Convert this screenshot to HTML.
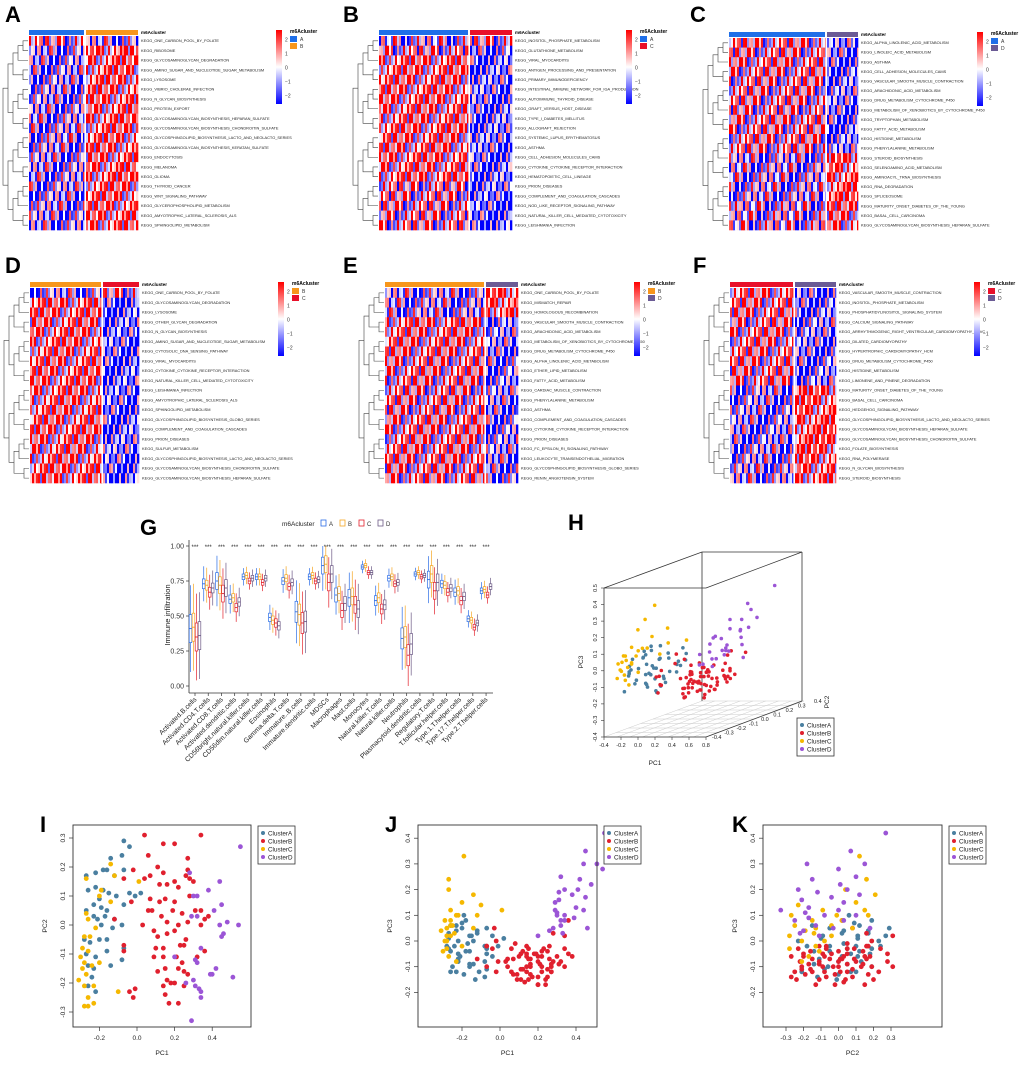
<!DOCTYPE html>
<html><head><meta charset="utf-8"><style>
html,body{margin:0;padding:0;background:#fff}
svg text{font-family:"Liberation Sans",Arial,sans-serif}
</style></head><body>
<svg id="fig" xmlns="http://www.w3.org/2000/svg" width="1020" height="1060" viewBox="0 0 1020 1060">
<defs><linearGradient id="cbar" x1="0" y1="0" x2="0" y2="1"><stop offset="0" stop-color="#ff0000"/><stop offset="0.5" stop-color="#ffffff"/><stop offset="1" stop-color="#0000ff"/></linearGradient></defs>
</svg>
<script>
const NS="http://www.w3.org/2000/svg";
const svg=document.getElementById('fig');
function el(tag,attrs,parent,text){const e=document.createElementNS(NS,tag);for(const k in attrs)e.setAttribute(k,attrs[k]);if(text!==undefined)e.textContent=text;(parent||svg).appendChild(e);return e;}

// ---------- Heatmap data ----------
const pattern=[1.2,-0.9,0.4,-1.4,0.8,-0.2,1.5,-0.6,0.1,-1.1,0.9,-1.5,0.5,1.3,-0.4,0.2,-0.8,1.0,-1.2,0.6,-0.1,1.4,-0.7];
const labelsA=["ONE_CARBON_POOL_BY_FOLATE","RIBOSOME","GLYCOSAMINOGLYCAN_DEGRADATION","AMINO_SUGAR_AND_NUCLEOTIDE_SUGAR_METABOLISM","LYSOSOME","VIBRIO_CHOLERAE_INFECTION","N_GLYCAN_BIOSYNTHESIS","PROTEIN_EXPORT","GLYCOSAMINOGLYCAN_BIOSYNTHESIS_HEPARAN_SULFATE","GLYCOSAMINOGLYCAN_BIOSYNTHESIS_CHONDROITIN_SULFATE","GLYCOSPHINGOLIPID_BIOSYNTHESIS_LACTO_AND_NEOLACTO_SERIES","GLYCOSAMINOGLYCAN_BIOSYNTHESIS_KERATAN_SULFATE","ENDOCYTOSIS","MELANOMA","GLIOMA","THYROID_CANCER","WNT_SIGNALING_PATHWAY","GLYCEROPHOSPHOLIPID_METABOLISM","AMYOTROPHIC_LATERAL_SCLEROSIS_ALS","SPHINGOLIPID_METABOLISM"];
const meansA1=[0.3,-0.6,-0.7,-0.7,-0.7,-0.6,-0.7,-0.6,-0.5,-0.5,-0.4,-0.5,-0.6,-0.6,-0.6,-0.6,-0.6,-0.5,-0.6,-0.6];
const meansA2=[-0.5,1.2,1.0,1.0,1.0,0.9,1.0,0.9,1.0,0.9,0.9,0.9,0.9,1.0,1.0,0.9,0.9,0.9,1.0,0.9];
const labelsB=["INOSITOL_PHOSPHATE_METABOLISM","GLUTATHIONE_METABOLISM","VIRAL_MYOCARDITIS","ANTIGEN_PROCESSING_AND_PRESENTATION","PRIMARY_IMMUNODEFICIENCY","INTESTINAL_IMMUNE_NETWORK_FOR_IGA_PRODUCTION","AUTOIMMUNE_THYROID_DISEASE","GRAFT_VERSUS_HOST_DISEASE","TYPE_I_DIABETES_MELLITUS","ALLOGRAFT_REJECTION","SYSTEMIC_LUPUS_ERYTHEMATOSUS","ASTHMA","CELL_ADHESION_MOLECULES_CAMS","CYTOKINE_CYTOKINE_RECEPTOR_INTERACTION","HEMATOPOIETIC_CELL_LINEAGE","PRION_DISEASES","COMPLEMENT_AND_COAGULATION_CASCADES","NOD_LIKE_RECEPTOR_SIGNALING_PATHWAY","NATURAL_KILLER_CELL_MEDIATED_CYTOTOXICITY","LEISHMANIA_INFECTION"];
const meansB1=[-0.3,0.3,0.9,0.9,0.8,0.9,0.9,0.8,0.8,0.9,0.8,0.8,0.9,0.8,0.9,0.2,0.3,0.3,0.3,0.3];
const meansB2=[0.3,-0.8,-1.2,-1.2,-1.1,-1.2,-1.1,-1.1,-1.1,-1.2,-1.1,-1.1,-1.2,-1.1,-1.1,-1.2,-1.3,-1.3,-1.3,-1.3];
const labelsC=["ALPHA_LINOLENIC_ACID_METABOLISM","LINOLEIC_ACID_METABOLISM","ASTHMA","CELL_ADHESION_MOLECULES_CAMS","VASCULAR_SMOOTH_MUSCLE_CONTRACTION","ARACHIDONIC_ACID_METABOLISM","DRUG_METABOLISM_CYTOCHROME_P450","METABOLISM_OF_XENOBIOTICS_BY_CYTOCHROME_P450","TRYPTOPHAN_METABOLISM","FATTY_ACID_METABOLISM","HISTIDINE_METABOLISM","PHENYLALANINE_METABOLISM","STEROID_BIOSYNTHESIS","SELENOAMINO_ACID_METABOLISM","AMINOACYL_TRNA_BIOSYNTHESIS","RNA_DEGRADATION","SPLICEOSOME","MATURITY_ONSET_DIABETES_OF_THE_YOUNG","BASAL_CELL_CARCINOMA","GLYCOSAMINOGLYCAN_BIOSYNTHESIS_HEPARAN_SULFATE"];
const meansC1=[0.5,0.4,0.6,0.5,0.4,0.4,0.4,0.3,0.5,0.4,0.5,0.4,-0.5,-0.4,-0.4,-0.4,-0.5,-0.2,-0.2,-0.1];
const meansC2=[-1.0,-0.9,-1.1,-1.0,-1.1,-1.0,-1.1,-1.0,-1.0,-1.2,-1.0,-1.0,1.3,1.2,1.2,1.3,1.2,0.8,0.8,0.7];
const labelsD=["ONE_CARBON_POOL_BY_FOLATE","GLYCOSAMINOGLYCAN_DEGRADATION","LYSOSOME","OTHER_GLYCAN_DEGRADATION","N_GLYCAN_BIOSYNTHESIS","AMINO_SUGAR_AND_NUCLEOTIDE_SUGAR_METABOLISM","CYTOSOLIC_DNA_SENSING_PATHWAY","VIRAL_MYOCARDITIS","CYTOKINE_CYTOKINE_RECEPTOR_INTERACTION","NATURAL_KILLER_CELL_MEDIATED_CYTOTOXICITY","LEISHMANIA_INFECTION","AMYOTROPHIC_LATERAL_SCLEROSIS_ALS","SPHINGOLIPID_METABOLISM","GLYCOSPHINGOLIPID_BIOSYNTHESIS_GLOBO_SERIES","COMPLEMENT_AND_COAGULATION_CASCADES","PRION_DISEASES","SULFUR_METABOLISM","GLYCOSPHINGOLIPID_BIOSYNTHESIS_LACTO_AND_NEOLACTO_SERIES","GLYCOSAMINOGLYCAN_BIOSYNTHESIS_CHONDROITIN_SULFATE","GLYCOSAMINOGLYCAN_BIOSYNTHESIS_HEPARAN_SULFATE"];
const meansD1=[-0.6,0.9,0.9,0.8,0.9,0.9,0.8,0.8,0.9,0.9,0.9,0.8,0.8,0.8,0.9,0.8,0.7,0.8,0.9,0.9];
const meansD2=[0.3,-1.3,-1.3,-1.2,-1.3,-1.2,-1.2,-1.3,-1.3,-1.3,-1.3,-1.2,-1.2,-1.2,-1.2,-1.2,-1.1,-1.2,-1.3,-1.3];
const labelsE=["ONE_CARBON_POOL_BY_FOLATE","MISMATCH_REPAIR","HOMOLOGOUS_RECOMBINATION","VASCULAR_SMOOTH_MUSCLE_CONTRACTION","ARACHIDONIC_ACID_METABOLISM","METABOLISM_OF_XENOBIOTICS_BY_CYTOCHROME_P450","DRUG_METABOLISM_CYTOCHROME_P450","ALPHA_LINOLENIC_ACID_METABOLISM","ETHER_LIPID_METABOLISM","FATTY_ACID_METABOLISM","CARDIAC_MUSCLE_CONTRACTION","PHENYLALANINE_METABOLISM","ASTHMA","COMPLEMENT_AND_COAGULATION_CASCADES","CYTOKINE_CYTOKINE_RECEPTOR_INTERACTION","PRION_DISEASES","FC_EPSILON_RI_SIGNALING_PATHWAY","LEUKOCYTE_TRANSENDOTHELIAL_MIGRATION","GLYCOSPHINGOLIPID_BIOSYNTHESIS_GLOBO_SERIES","RENIN_ANGIOTENSIN_SYSTEM"];
const meansE1=[-0.5,-0.5,-0.5,0.8,0.7,0.7,0.7,0.5,0.6,0.5,0.4,0.5,0.4,0.6,0.6,0.6,0.6,0.6,0.5,0.5];
const meansE2=[1.3,1.3,1.2,-1.0,-0.9,-0.9,-0.9,-0.7,-0.8,-0.9,-0.8,-0.8,-0.8,-0.8,-0.8,-0.8,-0.8,-0.7,-0.7,-0.6];
const labelsF=["VASCULAR_SMOOTH_MUSCLE_CONTRACTION","INOSITOL_PHOSPHATE_METABOLISM","PHOSPHATIDYLINOSITOL_SIGNALING_SYSTEM","CALCIUM_SIGNALING_PATHWAY","ARRHYTHMOGENIC_RIGHT_VENTRICULAR_CARDIOMYOPATHY_ARVC","DILATED_CARDIOMYOPATHY","HYPERTROPHIC_CARDIOMYOPATHY_HCM","DRUG_METABOLISM_CYTOCHROME_P450","HISTIDINE_METABOLISM","LIMONENE_AND_PINENE_DEGRADATION","MATURITY_ONSET_DIABETES_OF_THE_YOUNG","BASAL_CELL_CARCINOMA","HEDGEHOG_SIGNALING_PATHWAY","GLYCOSPHINGOLIPID_BIOSYNTHESIS_LACTO_AND_NEOLACTO_SERIES","GLYCOSAMINOGLYCAN_BIOSYNTHESIS_HEPARAN_SULFATE","GLYCOSAMINOGLYCAN_BIOSYNTHESIS_CHONDROITIN_SULFATE","FOLATE_BIOSYNTHESIS","RNA_POLYMERASE","N_GLYCAN_BIOSYNTHESIS","STEROID_BIOSYNTHESIS"];
const meansF1=[0.7,0.6,0.6,0.4,0.6,0.6,0.6,0.5,0.5,0.5,-0.6,-0.7,-0.7,-0.7,-0.8,-0.8,-0.6,-0.6,-0.5,-0.5];
const meansF2=[-1.1,-1.0,-1.0,-0.8,-1.0,-1.0,-1.0,-0.9,-0.9,-0.9,1.1,1.2,1.2,1.3,1.3,1.3,1.2,1.1,1.0,1.0];

const CL={A:"#1f6fe8",B:"#f7961c",C:"#e8102a",D:"#6b5b95"};
function hcol(v){let t=Math.max(-1,Math.min(1,v/1.9));if(t>=0){const c=Math.round(255*(1-t));return `rgb(255,${c},${c})`;}const c=Math.round(255*(1+t));return `rgb(${c},${c},255)`;}

function heatmap(p){
  const g=el('g',{});
  
  
  const L=el('text',{x:p.lx,y:p.ly,'font-size':22,'font-weight':'bold'},g,p.id.toUpperCase());
  
  
  const n=p.labels.length,h=(p.y1-p.y0)/n,cw=2;
  el('rect',{x:p.x0,y:p.y0-6,width:p.split-p.x0-1,height:5,fill:CL[p.g1]},g);
  el('rect',{x:p.split+1,y:p.y0-6,width:p.x1-p.split-1,height:5,fill:CL[p.g2]},g);
  el('text',{x:p.x1+3,y:p.y0-2,'font-size':4.6,'font-weight':'bold'},g,'m6Acluster');
  const nc1=Math.round((p.split-p.x0)/cw),nc2=Math.round((p.x1-p.split-1)/cw);
  for(let r=0;r<n;r++){
    const y=p.y0+r*h;
    for(let c=0;c<nc1+nc2;c++){
      const grp=c<nc1?0:1;
      const mean=grp?p.m2[r]:p.m1[r];
      const v=mean+1.5*pattern[(c*7+r*5+p.seed)%pattern.length];
      const x=grp?p.split+1+(c-nc1)*cw:p.x0+c*cw;
      const w=grp?Math.min(cw,p.x1-x):Math.min(cw,p.split-x);
      if(w<=0)continue;
      const cell=el('rect',{x:x,y:y,width:w+0.3,height:h+0.3,fill:hcol(v)},g);
      
      
    }
    const t=el('text',{x:p.x1+3,y:y+h/2+1.3,'font-size':3.9,fill:'#222'},g,'KEGG_'+p.labels[r]);
    
    
  }
  el('line',{x1:p.split,y1:p.y0,x2:p.split,y2:p.y1,stroke:'#fff','stroke-width':1.2},g);
  const xr=p.x0-1,xl=p.x0-27;
  function dend(lo,hi){
    if(lo===hi)return{y:p.y0+(lo+0.5)*h,d:0};
    const m=Math.floor((lo+hi)/2);const a=dend(lo,m),b=dend(m+1,hi);
    const d=Math.max(a.d,b.d)+1;const step=(xr-xl)/5.2;
    const x=xr-d*step,xa=xr-a.d*step,xb=xr-b.d*step;
    el('path',{d:`M${xa},${a.y}H${x}V${b.y}H${xb}`,fill:'none',stroke:'#444','stroke-width':0.6},g);
    return{y:(a.y+b.y)/2,d:d};
  }
  dend(0,n-1);
  const cb=el('rect',{x:p.cbx,y:p.y0-6,width:6,height:74,fill:'url(#cbar)'},g);
  
  
  ['2','1','0','\u22121','\u22122'].forEach((s,i)=>el('text',{x:p.cbx+9,y:p.y0-6+10+i*14+1.5,'font-size':5,fill:'#333'},g,s));
  el('text',{x:p.cbx+14,y:p.y0-3,'font-size':5,'font-weight':'bold'},g,'m6Acluster');
  el('rect',{x:p.cbx+14,y:p.y0,width:7,height:6,fill:CL[p.g1]},g);
  el('rect',{x:p.cbx+14,y:p.y0+7,width:7,height:6,fill:CL[p.g2]},g);
  el('text',{x:p.cbx+24,y:p.y0+5,'font-size':5,fill:'#333'},g,p.g1);
  el('text',{x:p.cbx+24,y:p.y0+12,'font-size':5,fill:'#333'},g,p.g2);
}
heatmap({id:'a',lx:5,ly:22,x0:29,x1:138,split:85,y0:36,y1:230,labels:labelsA,m1:meansA1,m2:meansA2,g1:'A',g2:'B',cbx:276,seed:0});
heatmap({id:'b',lx:343,ly:22,x0:379,x1:512,split:469,y0:36,y1:230,labels:labelsB,m1:meansB1,m2:meansB2,g1:'A',g2:'C',cbx:626,seed:3});
heatmap({id:'c',lx:690,ly:22,x0:729,x1:858,split:826,y0:38,y1:230,labels:labelsC,m1:meansC1,m2:meansC2,g1:'A',g2:'D',cbx:977,seed:7});
heatmap({id:'d',lx:5,ly:273,x0:30,x1:139,split:102,y0:288,y1:483,labels:labelsD,m1:meansD1,m2:meansD2,g1:'B',g2:'C',cbx:278,seed:11});
heatmap({id:'e',lx:343,ly:273,x0:385,x1:518,split:485,y0:288,y1:483,labels:labelsE,m1:meansE1,m2:meansE2,g1:'B',g2:'D',cbx:634,seed:5});
heatmap({id:'f',lx:693,ly:273,x0:730,x1:836,split:794,y0:288,y1:483,labels:labelsF,m1:meansF1,m2:meansF2,g1:'C',g2:'D',cbx:974,seed:9});
</script>

<script>
// ---------- G: boxplot ----------
const cellTypes=["Activated.B.cells","Activated.CD4.T.cells","Activated.CD8.T.cells","Activated.dendritic.cells","CD56bright.natural.killer.cells","CD56dim.natural.killer.cells","Eosinophils","Gamma.delta.T.cells","Immature..B.cells","Immature.dendritic.cells","MDSCs","Macrophages","Mast.cells","Monocytes","Natural.killer.T.cells","Natural.killer.cells","Neutrophils","Plasmacytoid.dendritic.cells","Regulatory.T.cells","T.follicular.helper.cells","Type.1.T.helper.cells","Type.17.T.helper.cells","Type.2.T.helper.cells"];
const medA=[0.41,0.73,0.75,0.62,0.78,0.78,0.49,0.75,0.53,0.78,0.86,0.65,0.63,0.85,0.61,0.77,0.34,0.80,0.76,0.73,0.67,0.48,0.68];
const medB=[0.42,0.72,0.72,0.63,0.79,0.78,0.47,0.77,0.51,0.79,0.87,0.66,0.64,0.86,0.63,0.78,0.35,0.81,0.80,0.72,0.68,0.47,0.69];
const medC=[0.35,0.67,0.66,0.56,0.75,0.74,0.45,0.71,0.45,0.75,0.74,0.54,0.58,0.81,0.55,0.73,0.22,0.78,0.68,0.67,0.61,0.42,0.65];
const medD=[0.36,0.70,0.70,0.60,0.77,0.77,0.43,0.74,0.46,0.76,0.80,0.59,0.55,0.81,0.58,0.74,0.30,0.79,0.74,0.70,0.64,0.45,0.71];
const iqrs=[0.20,0.07,0.12,0.06,0.04,0.04,0.06,0.05,0.15,0.04,0.12,0.10,0.12,0.03,0.07,0.04,0.15,0.03,0.12,0.05,0.06,0.04,0.04];
const whisk=[0.35,0.15,0.20,0.12,0.07,0.07,0.10,0.10,0.25,0.07,0.20,0.15,0.20,0.05,0.12,0.08,0.25,0.05,0.18,0.08,0.10,0.07,0.07];
const yTicks=[0,0.25,0.5,0.75,1.0];
(function(){
  const g=el('g',{});
  
  
  const lab=el('text',{x:140,y:535,'font-size':22,'font-weight':'bold'},g,'G');
  
  
  const yS=v=>686-v*140, xS=i=>195+i*13.23;
  el('line',{x1:189,y1:540,x2:189,y2:693,stroke:'#333','stroke-width':0.8},g);
  el('line',{x1:189,y1:693,x2:493,y2:693,stroke:'#333','stroke-width':0.8},g);
  yTicks.forEach(t=>{el('line',{x1:186,y1:yS(t),x2:189,y2:yS(t),stroke:'#333','stroke-width':0.7},g);el('text',{x:184,y:yS(t)+2.5,'font-size':7,'text-anchor':'end',fill:'#333'},g,t.toFixed(2));});
  const yt=el('text',{x:0,y:0,'font-size':7.5,'text-anchor':'middle',transform:'translate(170,615) rotate(-90)',fill:'#222'},g,'Immune infiltration');
  
  
  const meds=[medA,medB,medC,medD],cols=['#2a6ce6','#f5a623','#e3202b','#6d5a86'],offs=[-4.5,-1.5,1.5,4.5];
  cellTypes.forEach((name,i)=>{
    const cx=xS(i);
    el('line',{x1:cx,y1:693,x2:cx,y2:696,stroke:'#333','stroke-width':0.7},g);
    el('text',{x:cx,y:549,'font-size':6,'text-anchor':'middle',fill:'#222'},g,'***');
    const t=el('text',{x:0,y:0,'font-size':6.8,'text-anchor':'end',transform:`translate(${cx+2},${700}) rotate(-45)`,fill:'#222'},g,name);
    
    
    meds.forEach((m,k)=>{
      const x=cx+offs[k],md=m[i],q=iqrs[i]/2,w=whisk[i];
      const hi=Math.min(1,md+q+w*0.6),lo=Math.max(0,md-q-w*0.6);
      el('line',{x1:x,y1:yS(hi),x2:x,y2:yS(lo),stroke:cols[k],'stroke-width':0.7},g);
      const b=el('rect',{x:x-1.3,y:yS(md+q),width:2.6,height:q*2*140,fill:'#fff',stroke:cols[k],'stroke-width':0.7},g);
      
      
      el('line',{x1:x-1.3,y1:yS(md),x2:x+1.3,y2:yS(md),stroke:cols[k],'stroke-width':0.9},g);
    });
  });
  el('text',{x:282,y:526,'font-size':6.5,fill:'#222'},g,'m6Acluster');
  ['A','B','C','D'].forEach((s,k)=>{const x=321+k*19;
    const r=el('rect',{x:x,y:520,width:5,height:6,fill:'#fff',stroke:cols[k],'stroke-width':0.8},g);
    
    
    el('text',{x:x+8,y:526,'font-size':6,fill:'#333'},g,s);});
})();

// ---------- PCA data [PC1, PC2, PC3] ----------
const clusterA=[[-0.07,0.29,0.05],[-0.04,0.27,0.02],[-0.08,0.24,-0.02],[-0.14,0.23,0.0],[-0.27,0.17,0.03],[-0.22,0.18,-0.05],[-0.18,0.19,0.08],[-0.16,0.19,-0.1],[-0.12,0.17,0.04],[-0.07,0.19,-0.03],[-0.26,0.12,0.06],[-0.22,0.13,-0.08],[-0.18,0.12,-0.04],[-0.15,0.11,0.02],[-0.11,0.1,-0.12],[-0.04,0.11,-0.06],[-0.01,0.1,-0.02],[0.02,0.11,0.01],[-0.2,0.09,0.07],[-0.23,0.07,-0.12],[-0.27,0.05,-0.03],[-0.19,0.06,0.1],[-0.16,0.05,-0.09],[-0.07,0.07,-0.05],[-0.23,0.03,0.04],[-0.21,0.02,-0.06],[-0.19,0.0,-0.13],[-0.17,0.03,-0.01],[-0.12,0.02,0.03],[-0.08,0.0,-0.08],[-0.13,-0.01,-0.15],[-0.28,-0.05,-0.02],[-0.2,-0.05,0.05],[-0.25,-0.06,-0.1],[-0.16,-0.05,-0.04],[-0.07,-0.08,-0.11],[-0.27,-0.1,0.01],[-0.22,-0.11,-0.07],[-0.16,-0.09,0.02],[-0.08,-0.12,-0.14],[-0.26,-0.14,-0.04],[-0.23,-0.15,0.06],[-0.14,-0.14,-0.09],[-0.24,-0.18,-0.02],[-0.26,-0.21,-0.12],[-0.22,-0.23,0.0]];
const clusterB=[[0.04,0.31,-0.1],[0.14,0.28,-0.05],[0.2,0.28,-0.08],[0.34,0.31,0.02],[0.27,0.23,-0.12],[0.06,0.24,-0.03],[-0.02,0.19,0.0],[0.11,0.2,-0.15],[0.14,0.18,-0.06],[0.27,0.19,-0.1],[-0.07,0.16,-0.02],[0.04,0.16,-0.07],[0.07,0.17,-0.13],[0.12,0.14,-0.04],[0.16,0.14,-0.09],[0.2,0.15,-0.17],[0.22,0.13,-0.1],[0.28,0.16,0.03],[0.3,0.15,-0.06],[0.26,0.17,-0.02],[0.12,0.08,-0.11],[0.15,0.09,-0.03],[0.2,0.08,-0.14],[0.07,0.09,-0.07],[-0.03,0.08,0.05],[0.28,0.1,-0.08],[0.06,0.05,-0.12],[0.08,0.05,-0.01],[0.19,0.05,-0.05],[0.24,0.04,-0.15],[0.31,0.05,-0.09],[0.34,0.05,-0.03],[0.13,0.03,-0.16],[0.16,0.01,-0.07],[0.27,0.01,-0.12],[0.22,0.0,-0.04],[0.34,0.0,-0.1],[0.38,0.03,-0.06],[0.36,0.02,0.08],[0.03,0.0,-0.08],[0.09,-0.02,-0.13],[0.11,-0.04,-0.05],[0.16,-0.03,-0.1],[0.2,-0.02,-0.17],[0.26,-0.05,-0.07],[-0.07,-0.07,-0.02],[-0.07,-0.09,-0.1],[0.1,-0.08,-0.06],[0.14,-0.08,-0.12],[0.25,-0.07,-0.14],[0.23,-0.07,-0.03],[0.32,-0.11,-0.08],[0.36,-0.09,-0.05],[0.21,-0.11,-0.09],[0.09,-0.11,-0.15],[0.14,-0.11,-0.02],[0.11,-0.16,-0.11],[0.15,-0.15,-0.07],[0.22,-0.15,-0.12],[0.25,-0.16,-0.04],[0.24,-0.13,-0.17],[0.27,-0.17,-0.09],[0.16,-0.19,-0.13],[0.18,-0.2,-0.05],[0.14,-0.21,-0.1],[0.15,-0.24,-0.15],[0.2,-0.2,-0.06],[0.25,-0.21,-0.11],[-0.04,-0.23,-0.03],[-0.01,-0.22,-0.08],[-0.02,-0.25,-0.12],[0.17,-0.27,-0.14],[0.22,-0.27,-0.06],[-0.12,0.02,-0.07]];
const clusterC=[[-0.14,0.21,0.18],[-0.12,0.17,0.1],[-0.27,0.16,0.24],[-0.19,0.12,0.33],[-0.2,0.1,0.15],[-0.14,0.08,0.05],[0.01,0.15,0.12],[-0.27,0.04,0.2],[-0.26,0.02,0.08],[-0.22,-0.01,0.1],[-0.28,-0.04,0.02],[-0.25,-0.04,0.06],[-0.29,-0.08,0.0],[-0.26,-0.09,0.12],[-0.3,-0.11,-0.04],[-0.28,-0.13,0.05],[-0.24,-0.14,0.03],[-0.2,-0.13,-0.02],[-0.29,-0.15,0.08],[-0.27,-0.17,-0.06],[-0.31,-0.19,0.04],[-0.28,-0.21,0.0],[-0.23,-0.21,-0.08],[-0.1,-0.23,0.14],[-0.26,-0.25,0.06],[-0.28,-0.28,-0.03],[-0.26,-0.28,0.02],[-0.23,-0.27,0.1]];
const clusterD=[[0.55,0.27,0.42],[0.28,0.18,0.05],[0.44,0.15,0.3],[0.38,0.12,0.18],[0.3,0.1,0.1],[0.32,0.1,0.25],[0.41,0.05,0.2],[0.45,0.07,0.35],[0.29,0.03,0.15],[0.32,0.03,0.08],[0.48,0.01,0.22],[0.44,0.0,0.12],[0.54,0.0,0.28],[0.46,-0.03,0.05],[0.45,-0.04,0.17],[0.34,-0.08,0.1],[0.2,-0.11,0.02],[0.31,-0.12,0.19],[0.32,-0.13,0.06],[0.42,-0.15,0.24],[0.4,-0.17,0.13],[0.39,-0.17,0.09],[0.51,-0.18,0.3],[0.26,-0.2,0.04],[0.3,-0.19,0.11],[0.31,-0.21,0.16],[0.33,-0.22,0.03],[0.34,-0.23,0.2],[0.34,-0.25,0.08],[0.29,-0.33,0.12]];
const clusterNames=["ClusterA","ClusterB","ClusterC","ClusterD"];
const PC=[clusterA,clusterB,clusterC,clusterD];
const PCOL=["#4a7fa0","#e0202e","#f5b800","#9b55d6"];

function legend(g,x,y){
  el('rect',{x:x,y:y,width:37,height:38,fill:'#fff',stroke:'#333','stroke-width':0.8},g);
  clusterNames.forEach((n,k)=>{
    const c=el('circle',{cx:x+5,cy:y+7+k*8,r:2,fill:PCOL[k]},g);
    
    
    el('text',{x:x+10,y:y+9.3+k*8,'font-size':6.3,fill:'#222'},g,n);
  });
}
function scatter(p){
  const g=el('g',{});
  
  
  const L=el('text',{x:p.lx,y:p.ly,'font-size':22,'font-weight':'bold'},g,p.id.toUpperCase());
  
  
  const xS=v=>p.x0+v*p.xs, yS=v=>p.y0-v*p.ys;
  PC.forEach((arr,k)=>arr.forEach(pt=>{
    const c=el('circle',{cx:xS(pt[p.xi]),cy:yS(pt[p.yi]),r:2.4,fill:PCOL[k]},g);
    
    
  }));
  el('rect',{x:p.bx0,y:825,width:p.bx1-p.bx0,height:202,fill:'none',stroke:'#333','stroke-width':0.9},g);
  p.xt.forEach(t=>{const x=xS(t);el('line',{x1:x,y1:1027,x2:x,y2:1031,stroke:'#333','stroke-width':0.7},g);el('text',{x:x,y:1040,'font-size':6.5,'text-anchor':'middle',fill:'#222'},g,t.toFixed(1));});
  p.yt.forEach(t=>{const y=yS(t);el('line',{x1:p.bx0-4,y1:y,x2:p.bx0,y2:y,stroke:'#333','stroke-width':0.7},g);el('text',{x:0,y:0,'font-size':6.5,'text-anchor':'middle',transform:`translate(${p.bx0-8},${y}) rotate(-90)`,fill:'#222'},g,t.toFixed(1));});
  el('text',{x:(p.bx0+p.bx1)/2,y:1055,'font-size':6.8,'text-anchor':'middle',fill:'#222'},g,p.xl);
  el('text',{x:0,y:0,'font-size':6.8,'text-anchor':'middle',transform:`translate(${p.bx0-26},926) rotate(-90)`,fill:'#222'},g,p.yl);
  legend(g,p.bx1+7,826);
}
scatter({id:'i',lx:40,ly:832,x0:137,xs:188,y0:925,ys:290,xi:0,yi:1,bx0:73,bx1:251,xt:[-0.2,0,0.2,0.4],yt:[-0.3,-0.2,-0.1,0,0.1,0.2,0.3],xl:'PC1',yl:'PC2'});
scatter({id:'j',lx:385,ly:832,x0:500,xs:190,y0:941,ys:257,xi:0,yi:2,bx0:418,bx1:597,xt:[-0.2,0,0.2,0.4],yt:[-0.2,-0.1,0,0.1,0.2,0.3,0.4],xl:'PC1',yl:'PC3'});
scatter({id:'k',lx:732,ly:832,x0:838.5,xs:175,y0:941,ys:257,xi:1,yi:2,bx0:763,bx1:942,xt:[-0.3,-0.2,-0.1,0,0.1,0.2,0.3],yt:[-0.2,-0.1,0,0.1,0.2,0.3,0.4],xl:'PC2',yl:'PC3'});

// ---------- H: 3D scatter ----------
(function(){
  const g=el('g',{});
  
  
  const L=el('text',{x:568,y:530,'font-size':22,'font-weight':'bold'},g,'H');
  
  
  const st={stroke:'#333','stroke-width':0.8,fill:'none'};
  for(let k=0;k<=8;k++){const t=k/8;el('line',{x1:604+t*98,y1:737-t*36,x2:706+t*98,y2:737-t*36,stroke:'#ccc','stroke-width':0.5},g);}
  for(let k=0;k<=8;k++){const x=604+k*12.75;el('line',{x1:x,y1:737,x2:x+98,y2:701,stroke:'#ccc','stroke-width':0.5},g);}
  el('path',Object.assign({d:'M604,588V737H706M604,588H706L802,552H702L604,588M702,552V701M802,552V701M706,737L802,701'},st),g);
  [-0.4,-0.2,0,0.2,0.4,0.6,0.8].forEach((t,i)=>{const x=604+(t+0.4)/1.2*102;el('line',{x1:x,y1:737,x2:x,y2:740,stroke:'#333','stroke-width':0.6},g);el('text',{x:x,y:747,'font-size':5.5,'text-anchor':'middle',fill:'#222'},g,t.toFixed(1));});
  [-0.4,-0.3,-0.2,-0.1,0,0.1,0.2,0.3,0.4,0.5].forEach(t=>{const y=737-(t+0.4)/0.9*149;el('line',{x1:601,y1:y,x2:604,y2:y,stroke:'#333','stroke-width':0.6},g);el('text',{x:0,y:0,'font-size':5.5,'text-anchor':'middle',transform:`translate(597,${y}) rotate(-90)`,fill:'#222'},g,t.toFixed(1));});
  [-0.4,-0.3,-0.2,-0.1,0,0.1,0.2,0.3].forEach((t,i)=>{const f=(t+0.4)/0.75;el('text',{x:712+f*92,y:739-f*34,'font-size':5.5,fill:'#222'},g,t.toFixed(1));});
  el('text',{x:0,y:0,'font-size':6.5,'text-anchor':'middle',transform:'translate(583,662) rotate(-90)',fill:'#222'},g,'PC3');
  el('text',{x:655,y:765,'font-size':6.5,'text-anchor':'middle',fill:'#222'},g,'PC1');
  el('text',{x:0,y:0,'font-size':6.5,'text-anchor':'middle',transform:'translate(829,702) rotate(-90)',fill:'#222'},g,'PC2');
  el('text',{x:814,y:703,'font-size':5.5,fill:'#222'},g,'0.4');
  PC.forEach((arr,k)=>arr.forEach(pt=>{
    const c=el('circle',{cx:676+pt[0]*150+pt[1]*60,cy:665-pt[2]*170-pt[1]*30,r:1.8,fill:PCOL[k]},g);
    
    
  }));
  legend(g,797,718);
})();
</script>
</body></html>
